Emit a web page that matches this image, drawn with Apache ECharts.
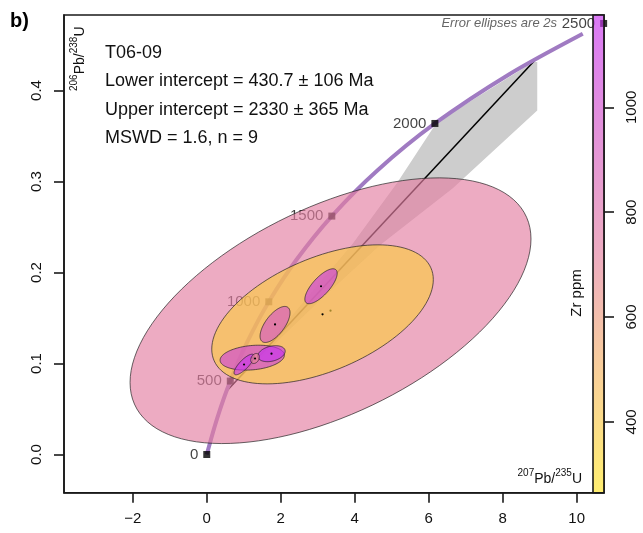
<!DOCTYPE html>
<html><head><meta charset="utf-8">
<script src="https://cdn.jsdelivr.net/npm/echarts@6/dist/echarts.min.js"></script>
<style>html,body{margin:0;padding:0;background:#fff}#c{width:643px;height:533px}</style>
</head><body><div id="c"></div>
<script>
const FONT = '"Liberation Sans", Arial, Helvetica, sans-serif';

// ---- axes ----
const xRange = [-3.86, 10.74];
const yRange = [-0.042, 0.483];
const zrRange = [265, 1176];
const xTicks = [-2, 0, 2, 4, 6, 8, 10];
const yTicks = [0, 0.1, 0.2, 0.3, 0.4];
const zrTicks = [400, 600, 800, 1000];

// ---- concordia curve (207Pb/235U, 206Pb/238U) ----
const concX = [0, 0.279, 0.636, 1.093, 1.677, 2.425, 3.381, 4.604, 6.168, 8.170, 10.166];
const concY = [0, 0.0395, 0.0807, 0.1234, 0.1678, 0.2140, 0.2620, 0.3119, 0.3638, 0.4177, 0.4624];

// ---- age markers ----
const ageLabels = [0, 500, 1000, 1500, 2000, 2500];
const ageX = [0, 0.636, 1.677, 3.381, 6.168, 10.73];
const ageY = [0, 0.0807, 0.1678, 0.2620, 0.3638, 0.4737];

// ---- discordia line (lower / upper intercept) and its error band ----
const discX = [0.528, 8.921];
const discY = [0.0691, 0.4354];
const bandX = [0.53, 2.0, 3.95, 5.14, 6.22, 8.83, 8.935, 8.935, 6.66, 4.68, 3.0, 2.0, 0.53];
const bandY = [0.069, 0.138, 0.232, 0.298, 0.365, 0.4314, 0.4314, 0.378, 0.293, 0.230, 0.167, 0.128, 0.069];

// ---- analyses: centre, 2s half-extents, error correlation, Zr ppm ----
const ellX    = [3.346, 3.13, 1.846, 3.089, 1.229, 1.75, 1.008, 1.305];
const ellY    = [0.158, 0.154, 0.1429, 0.1849, 0.1064, 0.1108, 0.0989, 0.1055];
const ellErrX = [5.42, 2.995, 0.405, 0.437, 0.869, 0.37, 0.27, 0.117];
const ellErrY = [0.146, 0.0764, 0.0198, 0.0192, 0.0137, 0.0088, 0.0113, 0.0055];
const ellRho  = [0.54, 0.5, 0.65, 0.74, 0.2, 0.3, 0.8, 0.3];
const ellZr   = [730, 380, 950, 1100, 1050, 1170, 1150, 700];

const zrColors = ['#FFE523', '#F5B662', '#E480A0', '#D458C5', '#C632F0'];
const fillAlpha = 0.65;

const infoLines = ['T06-09', 'Lower intercept = 430.7 \u00b1 106 Ma', 'Upper intercept = 2330 \u00b1 365 Ma', 'MSWD = 1.6, n = 9'];

const chart = echarts.init(document.getElementById('c'), null, {renderer: 'canvas'});
const alpha = (c, a) => echarts.color.modifyAlpha(c, a);

const option = {
  animation: false,
  textStyle: {fontFamily: FONT},
  grid: [
    {left: 64, top: 15, right: 39, bottom: 40.3, show: true, borderColor: '#1a1a1a', borderWidth: 1.6, backgroundColor: 'transparent'},
    {left: 593, top: 15, right: 39, bottom: 40.3, show: false}
  ],
  xAxis: [
    {type: 'value', gridIndex: 0, min: xRange[0], max: xRange[1],
     axisLine: {show: true, onZero: false, lineStyle: {color: '#1a1a1a', width: 1.6}},
     axisTick: {show: true, inside: false, customValues: xTicks, length: 10, lineStyle: {color: '#1a1a1a', width: 1.6}},
     axisLabel: {customValues: xTicks, margin: 19, fontSize: 15, color: '#111', fontFamily: FONT,
       formatter: v => String(v).replace('-', '\u2212')},
     splitLine: {show: false}},
    {type: 'value', gridIndex: 1, min: 0, max: 1, show: false}
  ],
  yAxis: [
    {type: 'value', gridIndex: 0, min: yRange[0], max: yRange[1],
     axisLine: {show: true, onZero: false, lineStyle: {color: '#1a1a1a', width: 1.6}},
     axisTick: {show: true, inside: false, customValues: yTicks, length: 10, lineStyle: {color: '#1a1a1a', width: 1.6}},
     axisLabel: {customValues: yTicks, margin: 20, fontSize: 15, color: '#111', rotate: 90, fontFamily: FONT,
       formatter: v => v.toFixed(1)},
     splitLine: {show: false}},
    {type: 'value', gridIndex: 1, min: zrRange[0], max: zrRange[1], position: 'right',
     axisLine: {show: false, onZero: false},
     axisTick: {show: true, inside: false, customValues: zrTicks, length: 10, lineStyle: {color: '#1a1a1a', width: 1.6}},
     axisLabel: {customValues: zrTicks, inside: false, margin: 20, fontSize: 15, color: '#111', rotate: 90, fontFamily: FONT,
       formatter: v => String(v)},
     splitLine: {show: false}, splitArea: {show: false}}
  ],
  visualMap: {
    type: 'continuous', show: false, min: zrRange[0], max: zrRange[1], dimension: 5, seriesIndex: 4,
    inRange: {color: zrColors}
  },
  series: [
    { // discordia error band
      type: 'custom', xAxisIndex: 0, yAxisIndex: 0, z: 1, silent: true,
      data: [[bandX[0], bandY[0]]],
      renderItem: (params, api) => ({
        type: 'polygon',
        shape: {points: bandX.map((x, i) => api.coord([x, bandY[i]]))},
        style: {fill: '#CDCDCD'}
      })
    },
    { // discordia
      type: 'line', xAxisIndex: 0, yAxisIndex: 0, z: 2, symbol: 'none', silent: true,
      data: discX.map((x, i) => [x, discY[i]]),
      lineStyle: {color: '#000', width: 1.5}
    },
    { // concordia
      type: 'line', xAxisIndex: 0, yAxisIndex: 0, z: 3, symbol: 'none', silent: true,
      smooth: 0.3,
      data: concX.map((x, i) => [x, concY[i]]),
      lineStyle: {color: '#A07BC2', width: 4}
    },
    { // age markers
      type: 'scatter', xAxisIndex: 0, yAxisIndex: 0, z: 4, symbol: 'rect', symbolSize: 7, silent: true,
      itemStyle: {color: '#000'},
      data: ageLabels.map((a, i) => [ageX[i], ageY[i], a]),
      label: {show: true, position: 'left', distance: 5, fontSize: 15, color: '#111', fontFamily: FONT,
        formatter: p => String(p.value[2])}
    },
    { // error ellipses
      type: 'custom', xAxisIndex: 0, yAxisIndex: 0, z: 5, silent: true, clip: true,
      data: ellX.map((x, i) => [x, ellY[i], ellErrX[i], ellErrY[i], ellRho[i], ellZr[i]]),
      encode: {x: 0, y: 1},
      renderItem: (params, api) => {
        const cx = api.value(0), cy = api.value(1), ex = api.value(2), ey = api.value(3), r = api.value(4);
        const s = Math.sqrt(1 - r * r);
        const pts = [];
        for (let k = 0; k < 120; k++) {
          const t = 2 * Math.PI * k / 120;
          pts.push(api.coord([cx + ex * Math.cos(t), cy + ey * (r * Math.cos(t) + s * Math.sin(t))]));
        }
        const c = api.coord([cx, cy]);
        return {type: 'group', children: [
          {type: 'polygon', shape: {points: pts}, style: {fill: alpha(api.visual('color'), fillAlpha), stroke: 'rgba(30,30,30,0.85)', lineWidth: 0.8}},
          {type: 'circle', shape: {cx: c[0], cy: c[1], r: 1.1}, style: {fill: '#000'}}
        ]};
      }
    },
    { // colour bar
      type: 'custom', xAxisIndex: 1, yAxisIndex: 1, z: 10, silent: true,
      data: [[0, zrRange[0]]],
      renderItem: (params, api) => {
        const p0 = api.coord([0, zrRange[1]]), p1 = api.coord([1, zrRange[0]]);
        const stops = zrColors.slice().reverse().map((c, i, a) => ({offset: i / (a.length - 1), color: alpha(c, fillAlpha)}));
        return {type: 'rect', shape: {x: p0[0], y: p0[1], width: p1[0] - p0[0], height: p1[1] - p0[1]},
          style: {fill: new echarts.graphic.LinearGradient(0, 0, 0, 1, stops), stroke: '#1a1a1a', lineWidth: 1.6}};
      }
    }
  ],
  graphic: [
    {type: 'text', x: 10, y: 21, style: {text: 'b)', font: 'bold 20px ' + FONT, fill: '#000', textVerticalAlign: 'middle', verticalAlign: 'middle'}},
    ...infoLines.map((t, i) => ({type: 'text', x: 105, y: 53 + i * 28.5,
      style: {text: t, font: '18px ' + FONT, fill: '#111', textVerticalAlign: 'middle', verticalAlign: 'middle'}})),
    {type: 'text', x: 557, y: 23, style: {text: 'Error ellipses are 2s', font: 'italic 13px ' + FONT, fill: '#666',
      textAlign: 'right', align: 'right', textVerticalAlign: 'middle', verticalAlign: 'middle'}},
    {type: 'text', x: 78, y: 91, rotation: Math.PI / 2,
      style: {text: '{s|206}{n|Pb/}{s|238}{n|U}', fill: '#111', textVerticalAlign: 'middle', verticalAlign: 'middle',
        rich: {n: {fontSize: 14, fontFamily: FONT, lineHeight: 18, verticalAlign: 'bottom'},
               s: {fontSize: 10, fontFamily: FONT, verticalAlign: 'top'}}}},
    {type: 'text', x: 582, y: 477,
      style: {text: '{s|207}{n|Pb/}{s|235}{n|U}', fill: '#111', textAlign: 'right', align: 'right', textVerticalAlign: 'middle', verticalAlign: 'middle',
        rich: {n: {fontSize: 14, fontFamily: FONT, lineHeight: 18, verticalAlign: 'bottom'},
               s: {fontSize: 10, fontFamily: FONT, verticalAlign: 'top'}}}},
    {type: 'text', x: 577, y: 293, rotation: Math.PI / 2,
      style: {text: 'Zr ppm', font: '15px ' + FONT, fill: '#111', textAlign: 'center', align: 'center', textVerticalAlign: 'middle', verticalAlign: 'middle'}}
  ]
};
chart.setOption(option);
</script>
</body></html>
